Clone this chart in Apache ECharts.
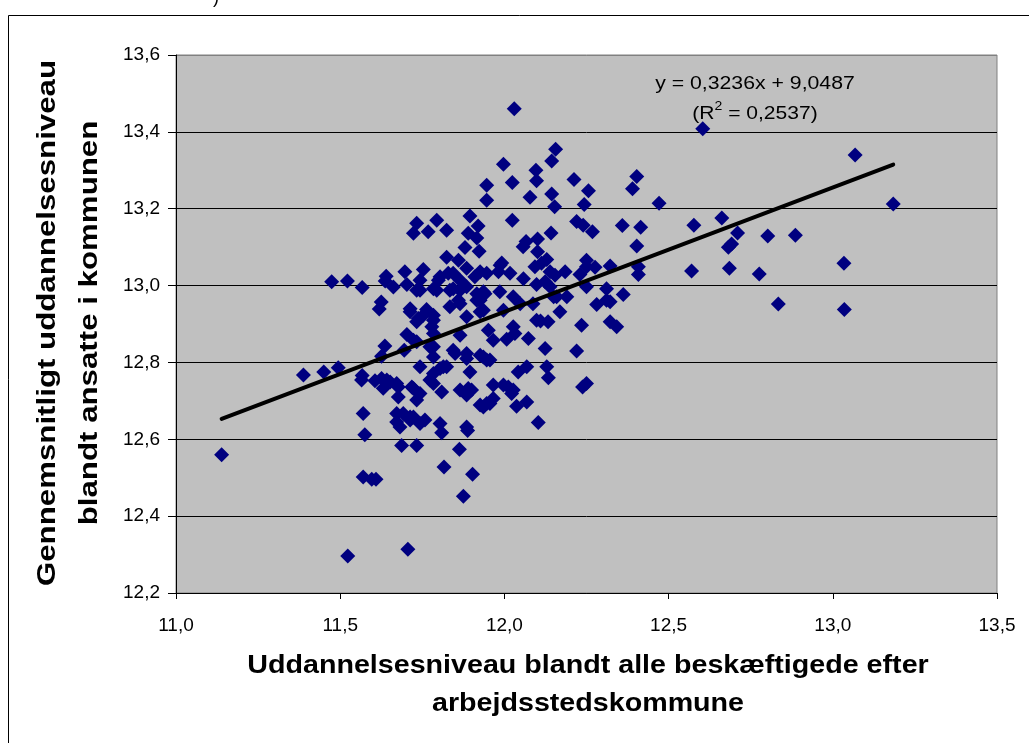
<!DOCTYPE html>
<html>
<head>
<meta charset="utf-8">
<script src="https://cdn.jsdelivr.net/npm/echarts@6/dist/echarts.min.js"></script>
<style>
html,body{margin:0;padding:0;background:#fff;}
#chart{width:1029px;height:743px;}
</style>
</head>
<body>
<div id="chart"></div>
<script>
// Scatter data: [uddannelsesniveau (arbejdssted), gennemsnitligt uddannelsesniveau (ansatte)]
const xValues = [
11.139,11.388,11.450,11.474,11.494,11.522,11.523,11.567,11.567,11.565,11.570,11.575,11.570,11.596,11.609,11.606,
11.625,11.619,11.640,11.637,11.662,11.636,11.626,11.631,11.642,11.652,11.626,11.672,11.677,11.677,11.672,11.672,11.682,11.687,11.695,11.697,11.703,11.703,11.692,
11.706,11.713,11.713,11.713,11.713,11.718,11.723,11.723,11.723,11.723,11.733,11.733,11.733,11.733,11.733,11.733,11.738,11.743,11.743,11.743,11.743,11.743,11.753,11.753,11.758,11.763,11.768,11.773,11.773,11.779,11.784,11.784,11.784,11.784,11.784,11.784,11.784,11.784,11.794,11.794,11.799,
11.804,11.804,11.804,11.809,11.809,11.814,11.816,11.824,11.824,11.824,11.829,11.834,11.834,11.844,11.844,11.844,11.850,11.860,11.860,11.863,11.865,11.865,11.865,11.865,11.865,11.875,11.880,11.885,11.885,11.885,11.885,11.885,11.885,11.885,11.888,11.890,11.890,11.895,11.895,11.900,
11.903,11.910,11.916,11.916,11.916,11.920,11.923,11.926,11.926,11.926,11.926,11.926,11.936,11.936,11.936,11.936,11.941,11.946,11.946,11.946,11.946,11.946,11.951,11.956,11.956,11.966,11.966,11.966,11.982,11.986,11.987,11.992,11.997,11.997,11.997,
12.007,12.012,12.017,12.022,12.024,12.024,12.027,12.027,12.027,12.030,12.032,12.037,12.042,12.048,12.057,12.058,12.066,12.068,12.068,12.073,12.078,12.087,12.093,12.096,12.098,12.098,12.098,12.101,12.101,12.103,
12.110,12.113,12.124,12.124,12.129,12.129,12.133,12.134,12.139,12.139,12.142,12.144,12.144,12.150,12.153,12.154,12.156,12.159,12.169,12.185,12.190,
12.212,12.220,12.220,12.230,12.235,12.238,12.243,12.240,12.250,12.250,12.250,12.250,12.256,12.268,12.276,12.281,12.311,12.311,12.322,12.322,12.322,12.342,12.359,12.362,12.390,12.403,12.403,12.408,12.408,12.415,12.471,
12.570,12.577,12.604,12.662,12.682,12.692,12.685,12.710,12.776,12.802,12.834,12.886,13.034,13.035,13.068,13.184
];
const yValues = [
12.560,12.767,12.775,13.010,12.786,13.012,12.296,12.995,12.766,12.754,12.667,12.612,12.502,12.496,12.496,12.752,
12.957,12.939,13.024,13.012,12.996,12.843,12.816,12.733,12.754,12.749,12.758,12.745,12.736,12.710,12.667,12.645,12.632,12.584,12.832,13.036,13.003,12.873,12.667,
12.314,12.932,12.940,12.658,12.650,12.736,12.858,12.732,12.658,13.136,13.162,12.988,12.906,12.854,12.702,12.584,12.914,13.014,12.988,12.789,12.719,12.641,13.042,12.923,12.650,12.938,13.140,12.841,12.754,12.893,12.992,12.923,12.910,12.875,12.841,12.814,12.771,12.745,13.170,12.988,13.014,
13.023,12.784,12.641,12.723,12.617,12.789,12.528,13.144,13.074,12.789,13.032,12.988,12.945,13.032,12.992,12.832,12.823,13.066,12.962,12.574,13.014,12.988,12.953,12.871,12.728,12.452,13.099,13.045,12.997,12.919,12.823,12.810,12.715,12.632,12.623,13.136,12.732,13.181,12.775,12.728,
12.509,13.023,13.124,12.979,12.962,13.155,13.089,13.036,12.962,12.932,12.819,12.689,12.984,12.936,12.814,12.684,12.979,13.261,13.222,13.032,12.806,12.693,12.884,12.806,12.693,12.858,12.741,12.706,13.036,12.984,13.053,13.059,13.316,12.936,12.741,
12.860,12.736,13.032,12.719,13.268,13.170,12.971,12.893,12.728,13.460,12.875,12.686,12.775,12.953,13.101,13.018,13.115,12.789,12.697,12.862,13.230,12.953,13.049,13.300,13.273,13.003,12.910,13.121,13.088,12.644,
12.908,13.058,13.010,12.836,13.068,12.789,12.906,12.760,13.036,12.997,13.137,13.324,13.238,12.971,13.205,13.027,13.355,12.971,12.932,13.036,12.971,
13.276,13.167,12.830,13.029,12.897,12.736,13.211,13.157,13.066,13.049,12.997,12.745,13.247,13.140,13.048,12.951,12.992,12.962,13.051,12.958,12.906,12.893,13.156,12.977,13.252,13.284,13.103,13.049,13.029,13.152,13.214,
13.038,13.157,13.408,13.176,13.100,13.108,13.045,13.137,13.030,13.129,12.952,13.131,13.058,12.938,13.340,13.212
];
// Trendline coefficients (Excel linear fit)
const slope = 0.3236;
const intercept = 9.0487;
const rSquared = 0.2537;
const xTicks = { min: 11.0, max: 13.5, step: 0.5 };
const yTicks = { min: 12.2, max: 13.6, step: 0.2 };

const points = xValues.map((x, i) => [x, yValues[i]]);
const xMinData = Math.min(...xValues);
const xMaxData = Math.max(...xValues);
const trend = [[xMinData, slope * xMinData + intercept], [xMaxData, slope * xMaxData + intercept]];
const fmt = v => Number(v).toFixed(1).replace('.', ',');
const fmt4 = v => v.toFixed(4).replace('.', ',');

const chart = echarts.init(document.getElementById('chart'), null, { renderer: 'canvas' });
const FONT = 'Liberation Sans, Arial, sans-serif';
const nLines = Math.round((yTicks.max - yTicks.min) / yTicks.step) + 1;
const gridColors = [];
for (let i = 0; i < nLines; i++) gridColors.push(i === nLines - 1 ? '#808080' : '#000000');

chart.setOption({
  animation: false,
  backgroundColor: '#ffffff',
  grid: { left: 176, top: 55, right: 32, bottom: 150, show: true, backgroundColor: '#C0C0C0', borderColor: '#808080', borderWidth: 1 },
  xAxis: {
    type: 'value', min: xTicks.min, max: xTicks.max, interval: xTicks.step,
    axisLine: { show: true, onZero: false, lineStyle: { color: '#000', width: 1 } },
    axisTick: { show: true, inside: false, length: 6, lineStyle: { color: '#000' } },
    axisLabel: { formatter: fmt, color: '#000', fontFamily: FONT, fontSize: 19, margin: 23 },
    splitLine: { show: false }
  },
  yAxis: {
    type: 'value', min: yTicks.min, max: yTicks.max, interval: yTicks.step,
    axisLine: { show: true, onZero: false, lineStyle: { color: '#000', width: 1 } },
    axisTick: { show: true, inside: false, length: 8, lineStyle: { color: '#000' } },
    axisLabel: { formatter: fmt, color: '#000', fontFamily: FONT, fontSize: 19, margin: 16 },
    splitLine: { show: true, lineStyle: { color: gridColors, width: 1 } }
  },
  series: [
    {
      type: 'scatter', data: points, symbol: 'diamond', symbolSize: 15,
      itemStyle: { color: '#000080', opacity: 1 }, z: 3
    },
    {
      type: 'line', data: trend, symbol: 'none', silent: true, z: 4,
      lineStyle: { color: '#000', width: 4, cap: 'round' }
    }
  ],
  graphic: [
    { type: 'rect', silent: true, z: -1, shape: { x: 8.5, y: 15.5, width: 1040, height: 760 }, style: { fill: 'none', stroke: '#000', lineWidth: 1 } },
    { type: 'text', x: 216, y: -2, style: { text: ')', font: '18px ' + FONT, fill: '#000', textAlign: 'center', textVerticalAlign: 'middle' } },
    { type: 'text', x: 755, y: 84, scaleX: 1.18, style: { text: 'y = ' + fmt4(slope) + 'x + ' + fmt4(intercept), font: '18px ' + FONT, fill: '#000', textAlign: 'center', textVerticalAlign: 'middle' } },
    { type: 'text', x: 755, y: 112, scaleX: 1.17, style: {
        text: '{a|(R}{s|2}{a| = ' + fmt4(rSquared) + ')}',
        textAlign: 'center', textVerticalAlign: 'middle',
        rich: { a: { fontSize: 18, fontFamily: FONT, color: '#000', verticalAlign: 'bottom' }, s: { fontSize: 12, fontFamily: FONT, color: '#000', verticalAlign: 'top', padding: [0, 0, 10, 0] } }
      } },
    { type: 'text', x: 588, y: 666, scaleX: 1.146, style: { text: 'Uddannelsesniveau blandt alle beskæftigede efter', font: 'bold 25px ' + FONT, fill: '#000', textAlign: 'center', textVerticalAlign: 'middle' } },
    { type: 'text', x: 588, y: 704, scaleX: 1.146, style: { text: 'arbejdsstedskommune', font: 'bold 25px ' + FONT, fill: '#000', textAlign: 'center', textVerticalAlign: 'middle' } },
    { type: 'text', x: 48, y: 323, rotation: Math.PI / 2, scaleX: 1.25, style: { text: 'Gennemsnitligt uddannelsesniveau', font: 'bold 25px ' + FONT, fill: '#000', textAlign: 'center', textVerticalAlign: 'middle' } },
    { type: 'text', x: 90, y: 323, rotation: Math.PI / 2, scaleX: 1.25, style: { text: 'blandt ansatte i kommunen', font: 'bold 25px ' + FONT, fill: '#000', textAlign: 'center', textVerticalAlign: 'middle' } }
  ]
});
</script>
</body>
</html>
